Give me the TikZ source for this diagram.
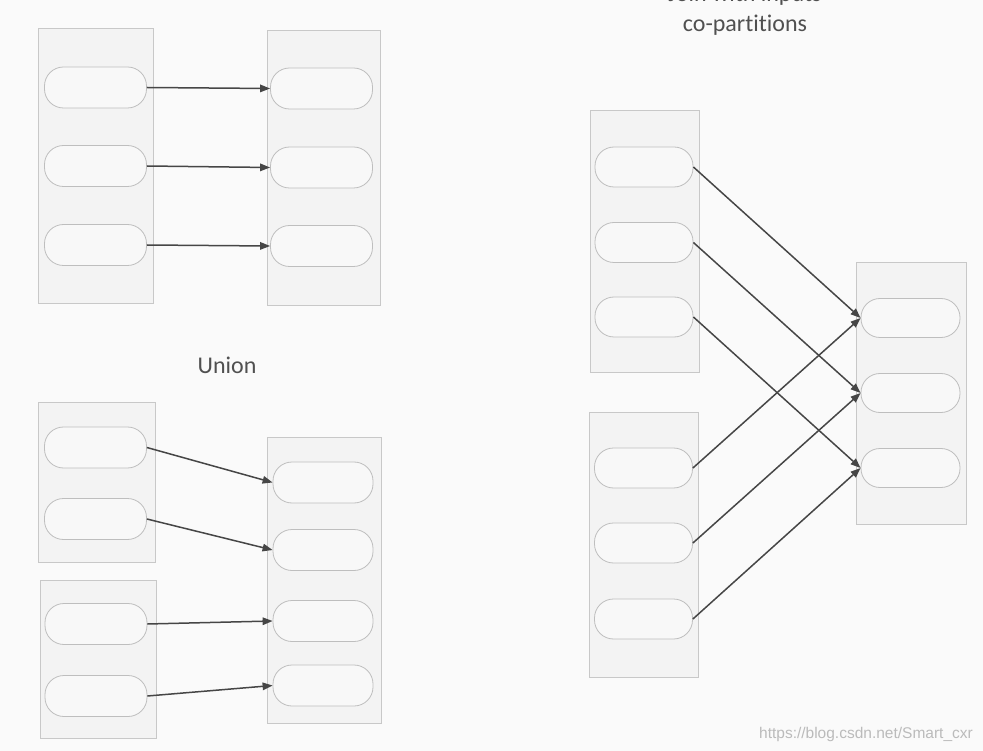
\documentclass[tikz,border=0pt]{standalone}
\usepackage{fontspec}
\setmainfont{Carlito}[Ligatures=NoCommon]
\newfontfamily\wmfont{Liberation Sans}
\usetikzlibrary{arrows.meta}
\definecolor{bgc}{HTML}{FAFAFA}
\definecolor{boxfill}{HTML}{F3F3F3}
\definecolor{boxline}{HTML}{C8C8C8}
\definecolor{pillfill}{HTML}{F8F8F8}
\definecolor{pillline}{HTML}{BEBEBE}
\definecolor{arrc}{HTML}{464646}
\definecolor{txtc}{HTML}{505050}
\definecolor{wmc}{HTML}{BBBBBB}
\tikzset{
  part/.style={draw=boxline, fill=boxfill, line width=0.8pt, inner sep=0pt, rectangle},
  pill/.style={draw=pillline, fill=pillfill, line width=0.8pt, inner sep=0pt, rectangle, rounded corners=19pt, minimum width=102pt, minimum height=41pt},
  link/.style={draw=arrc, line width=1.5pt, -{Triangle[length=10pt,width=7.5pt]}},
  lbl/.style={text=txtc, font=\fontsize{24}{29}\selectfont, inner sep=0pt},
}
\begin{document}
\begin{tikzpicture}[x=1pt,y=-1pt]
\useasboundingbox (0,0) rectangle (983,751);
\fill[bgc] (0,0) rectangle (983,751);

% ---- top-left: one-to-one ----
\node[part, minimum width=115pt, minimum height=275pt] (ta) at (95.5,165.5) {};
\node[part, minimum width=113pt, minimum height=275pt] (tb) at (323.5,167.5) {};
\node[pill] (ta1) at (95.5,87.5) {};
\node[pill] (ta2) at (95.5,166) {};
\node[pill] (ta3) at (95.5,245) {};
\node[pill] (tb1) at (321.5,88.5) {};
\node[pill] (tb2) at (321.5,167.5) {};
\node[pill] (tb3) at (321.5,246) {};
\draw[link] (ta1.east) -- (tb1.west);
\draw[link] (ta2.east) -- (tb2.west);
\draw[link] (ta3.east) -- (tb3.west);

% ---- bottom-left: union ----
\node[lbl] (union) at (227,365) {Union};
\node[part, minimum width=117pt, minimum height=160pt] (ua) at (96.5,482) {};
\node[part, minimum width=116pt, minimum height=158pt] (ub) at (98,659) {};
\node[part, minimum width=114pt, minimum height=286pt] (uc) at (324,580) {};
\node[pill] (ua1) at (95.5,447.5) {};
\node[pill] (ua2) at (95.5,519) {};
\node[pill] (ub1) at (96,624) {};
\node[pill] (ub2) at (96,696) {};
\node[pill, minimum width=100pt] (uc1) at (323,482.5) {};
\node[pill, minimum width=100pt] (uc2) at (323,550) {};
\node[pill, minimum width=100pt] (uc3) at (323,621) {};
\node[pill, minimum width=100pt] (uc4) at (323,685.5) {};
\draw[link] (ua1.east) -- (uc1.west);
\draw[link] (ua2.east) -- (uc2.west);
\draw[link] (ub1.east) -- (uc3.west);
\draw[link] (ub2.east) -- (uc4.west);

% ---- right: join with co-partitioned inputs ----
\node[lbl, anchor=base] (jt1) at (745,2) {Join with inputs};
\node[lbl, anchor=base] (jt2) at (745,32) {co-partitions};
\node[part, minimum width=109pt, minimum height=262pt] (ja) at (644.5,241) {};
\node[part, minimum width=109pt, minimum height=265pt] (jb) at (643.5,544.5) {};
\node[part, minimum width=110pt, minimum height=262pt] (jc) at (911,393) {};
\node[pill, minimum width=98pt, minimum height=40pt] (ja1) at (644,167) {};
\node[pill, minimum width=98pt, minimum height=40pt] (ja2) at (644,242.5) {};
\node[pill, minimum width=98pt, minimum height=40pt] (ja3) at (644,317) {};
\node[pill, minimum width=98pt, minimum height=40pt] (jb1) at (643.5,468) {};
\node[pill, minimum width=98pt, minimum height=40pt] (jb2) at (643.5,543) {};
\node[pill, minimum width=98pt, minimum height=40pt] (jb3) at (643.5,619) {};
\node[pill, minimum width=99pt, minimum height=39pt] (jc1) at (910.5,318) {};
\node[pill, minimum width=99pt, minimum height=39pt] (jc2) at (910.5,393) {};
\node[pill, minimum width=99pt, minimum height=39pt] (jc3) at (910.5,468) {};
\draw[link] (ja1.east) -- (jc1.west);
\draw[link] (ja2.east) -- (jc2.west);
\draw[link] (ja3.east) -- (jc3.west);
\draw[link] (jb1.east) -- (jc1.west);
\draw[link] (jb2.east) -- (jc2.west);
\draw[link] (jb3.east) -- (jc3.west);

% ---- watermark ----
\node[anchor=base east, inner sep=0pt, text=wmc, font=\wmfont\fontsize{15.5}{18}\selectfont] (wm) at (973,738) {https://blog.csdn.net/Smart\_cxr};
\end{tikzpicture}
\end{document}
